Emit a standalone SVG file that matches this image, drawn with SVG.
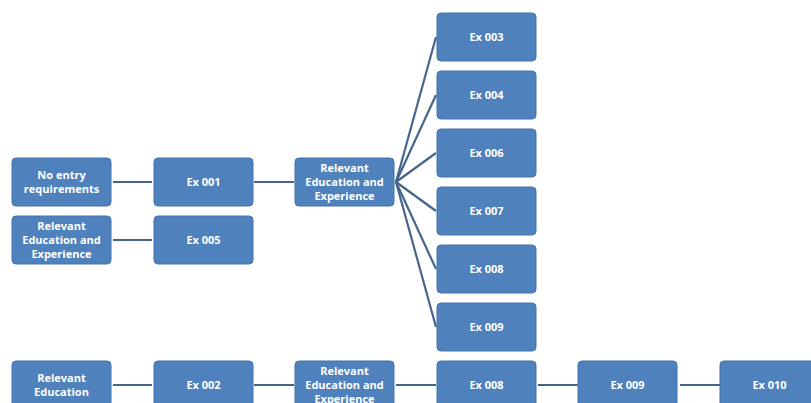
<svg xmlns="http://www.w3.org/2000/svg" width="811" height="403" viewBox="0 0 811 403">
<style>
.n rect{fill:#4f81bd;stroke:#4473ad;stroke-width:1}
.n text{fill:#fff;font-family:"Open Sans","Liberation Sans",sans-serif;font-weight:bold;font-size:11px;text-anchor:middle}
#edges line{stroke:#46658c;stroke-width:2.2}
</style>
<rect width="811" height="403" fill="#fff"/>
<g id="edges">
<line x1="113" y1="182" x2="152" y2="182"/>
<line x1="113" y1="240" x2="152" y2="240"/>
<line x1="254" y1="182" x2="294" y2="182"/>
<line x1="396" y1="182" x2="436" y2="37"/>
<line x1="396" y1="182" x2="436" y2="95"/>
<line x1="396" y1="182" x2="436" y2="153"/>
<line x1="396" y1="182" x2="436" y2="211"/>
<line x1="396" y1="182" x2="436" y2="269"/>
<line x1="396" y1="182" x2="436" y2="327"/>
<line x1="113" y1="385" x2="152" y2="385"/>
<line x1="254" y1="385" x2="294" y2="385"/>
<line x1="396" y1="385" x2="436" y2="385"/>
<line x1="538" y1="385" x2="578" y2="385"/>
<line x1="680" y1="385" x2="720" y2="385"/>
</g>
<g id="n1" class="n"><rect x="12" y="158" width="99" height="48" rx="4"/><text x="61.5" y="179">No entry</text><text x="61.5" y="193">requirements</text></g>
<g id="n2" class="n"><rect x="12" y="216" width="99" height="48" rx="4"/><text x="61.5" y="230">Relevant</text><text x="61.5" y="244">Education and</text><text x="61.5" y="258">Experience</text></g>
<g id="n3" class="n"><rect x="154" y="158" width="99" height="48" rx="4"/><text x="203.5" y="186">Ex 001</text></g>
<g id="n4" class="n"><rect x="154" y="216" width="99" height="48" rx="4"/><text x="203.5" y="244">Ex 005</text></g>
<g id="n5" class="n"><rect x="295" y="158" width="99" height="48" rx="4"/><text x="344.5" y="172">Relevant</text><text x="344.5" y="186">Education and</text><text x="344.5" y="200">Experience</text></g>
<g id="n6" class="n"><rect x="437" y="13" width="99" height="48" rx="4"/><text x="486.5" y="41">Ex 003</text></g>
<g id="n7" class="n"><rect x="437" y="71" width="99" height="48" rx="4"/><text x="486.5" y="99">Ex 004</text></g>
<g id="n8" class="n"><rect x="437" y="129" width="99" height="48" rx="4"/><text x="486.5" y="157">Ex 006</text></g>
<g id="n9" class="n"><rect x="437" y="187" width="99" height="48" rx="4"/><text x="486.5" y="215">Ex 007</text></g>
<g id="n10" class="n"><rect x="437" y="245" width="99" height="48" rx="4"/><text x="486.5" y="273">Ex 008</text></g>
<g id="n11" class="n"><rect x="437" y="303" width="99" height="48" rx="4"/><text x="486.5" y="331">Ex 009</text></g>
<g id="n12" class="n"><rect x="12" y="361" width="99" height="48" rx="4"/><text x="61.5" y="382">Relevant</text><text x="61.5" y="396">Education</text></g>
<g id="n13" class="n"><rect x="154" y="361" width="99" height="48" rx="4"/><text x="203.5" y="389">Ex 002</text></g>
<g id="n14" class="n"><rect x="295" y="361" width="99" height="48" rx="4"/><text x="344.5" y="375">Relevant</text><text x="344.5" y="389">Education and</text><text x="344.5" y="403">Experience</text></g>
<g id="n15" class="n"><rect x="437" y="361" width="99" height="48" rx="4"/><text x="486.5" y="389">Ex 008</text></g>
<g id="n16" class="n"><rect x="578" y="361" width="99" height="48" rx="4"/><text x="627.5" y="389">Ex 009</text></g>
<g id="n17" class="n"><rect x="720" y="361" width="99" height="48" rx="4"/><text x="769.5" y="389">Ex 010</text></g>
</svg>
